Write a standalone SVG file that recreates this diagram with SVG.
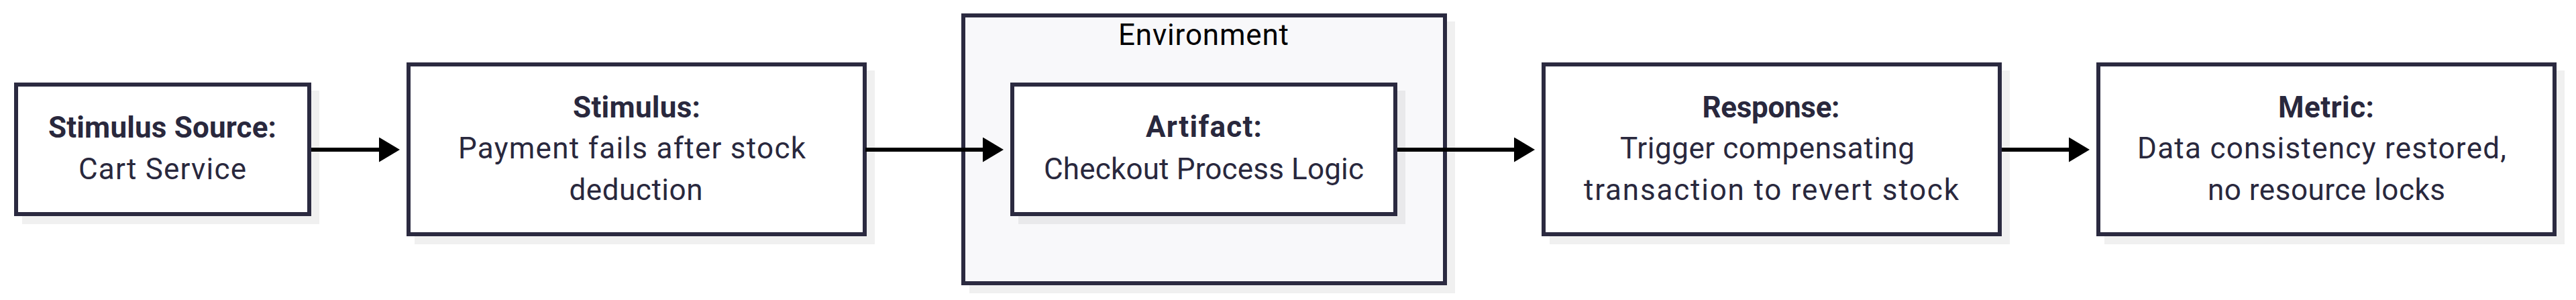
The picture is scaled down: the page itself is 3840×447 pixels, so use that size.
<svg xmlns="http://www.w3.org/2000/svg" width="3840" height="447" viewBox="0 0 3840 447">
  <defs>
    <style>
      .box { fill: #ffffff; stroke: #2b2a40; stroke-width: 6; }
      .env { fill: #f8f8fa; stroke: #2b2a40; stroke-width: 6; }
      .shadow { fill: #000000; fill-opacity: 0.06; }
      .t { font-family: Roboto, "Liberation Sans", sans-serif; font-size: 44px; fill: #29283d; text-anchor: middle; }
      .b { font-weight: bold; }
      .title { font-family: Roboto, "Liberation Sans", sans-serif; font-size: 44px; fill: #000000; text-anchor: middle; }
      .edge { fill: none; stroke: #000000; stroke-width: 6; }
    </style>
    <marker id="arrow" markerUnits="userSpaceOnUse" markerWidth="32" markerHeight="38" refX="0" refY="18.5" orient="auto" viewBox="0 0 32 38">
      <path d="M0,0 L31,18.5 L0,37 Z" fill="#000000"/>
    </marker>
  </defs>
  <rect width="3840" height="447" fill="#ffffff"/>

  <g id="stimulus-source">
    <rect class="shadow" x="33" y="135" width="443" height="199"/>
    <rect class="box" x="24" y="126" width="437" height="193"/>
    <text class="t b" x="242" y="205" textLength="340">Stimulus Source:</text>
    <text class="t" x="242" y="267" textLength="250">Cart Service</text>
  </g>

  <g id="stimulus">
    <rect class="shadow" x="618" y="105" width="686" height="259"/>
    <rect class="box" x="609" y="96" width="680" height="253"/>
    <text class="t b" x="949" y="175" textLength="190">Stimulus:</text>
    <text class="t" x="942" y="236" textLength="518">Payment fails after stock</text>
    <text class="t" x="948" y="298" textLength="199">deduction</text>
  </g>

  <g id="environment">
    <rect class="shadow" x="1445" y="32" width="724" height="405"/>
    <rect class="env" x="1436" y="23" width="718" height="399"/>
    <text class="title" x="1794" y="67" textLength="254">Environment</text>
  </g>

  <g id="artifact">
    <rect class="shadow" x="1518" y="135" width="577" height="199"/>
    <rect class="box" x="1509" y="126" width="571" height="193"/>
    <text class="t b" x="1794.5" y="204" textLength="173">Artifact:</text>
    <text class="t" x="1794.5" y="267" textLength="477">Checkout Process Logic</text>
  </g>

  <g id="response">
    <rect class="shadow" x="2310" y="105" width="686" height="259"/>
    <rect class="box" x="2301" y="96" width="680" height="253"/>
    <text class="t b" x="2640" y="175" textLength="205">Response:</text>
    <text class="t" x="2634.5" y="236" textLength="439">Trigger compensating</text>
    <text class="t" x="2640.5" y="298" textLength="559">transaction to revert stock</text>
  </g>

  <g id="metric">
    <rect class="shadow" x="3137" y="105" width="686" height="259"/>
    <rect class="box" x="3128" y="96" width="680" height="253"/>
    <text class="t b" x="3467.5" y="175" textLength="143">Metric:</text>
    <text class="t" x="3461" y="236" textLength="550">Data consistency restored,</text>
    <text class="t" x="3468" y="298" textLength="354">no resource locks</text>
  </g>

  <g id="connectors">
    <path class="edge" d="M464,223 L565,223" marker-end="url(#arrow)"/>
    <path class="edge" d="M1290,223 L1465,223" marker-end="url(#arrow)"/>
    <path class="edge" d="M2083,223 L2257,223" marker-end="url(#arrow)"/>
    <path class="edge" d="M2984,223 L3084,223" marker-end="url(#arrow)"/>
  </g>
</svg>
